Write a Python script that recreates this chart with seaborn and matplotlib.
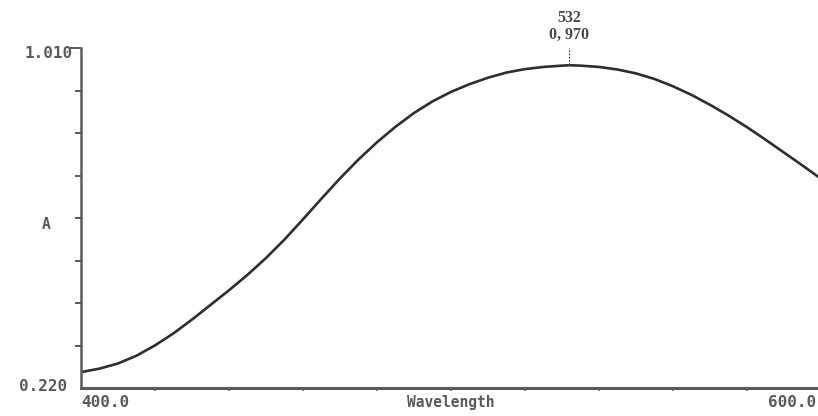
import numpy as np
import pandas as pd
import matplotlib
matplotlib.use("Agg")
import matplotlib.pyplot as plt
import matplotlib.transforms as mtransforms
import seaborn as sns

# Absorption spectrum, 400-600 nm
wavelength = [400, 405, 410, 415, 420, 425, 430, 435, 440, 445, 450, 455, 460,
              465, 470, 475, 480, 485, 490, 495, 500, 505, 510, 515, 520, 525,
              530, 532, 535, 540, 545, 550, 555, 560, 565, 570, 575, 580, 585,
              590, 595, 600]
absorbance = [0.257, 0.265, 0.277, 0.295, 0.319, 0.347, 0.379, 0.413, 0.447,
              0.483, 0.522, 0.565, 0.612, 0.660, 0.707, 0.751, 0.791, 0.827,
              0.859, 0.886, 0.908, 0.926, 0.941, 0.953, 0.961, 0.966, 0.969,
              0.970, 0.969, 0.966, 0.960, 0.951, 0.938, 0.921, 0.901, 0.878,
              0.853, 0.826, 0.797, 0.767, 0.737, 0.706]

peak_wl = 532
peak_abs = 0.970
x_range = (400.0, 600.0)
y_range = (0.220, 1.010)

sns.set_style("white")
plt.rcParams["font.family"] = ["DejaVu Sans Mono", "DejaVu Sans"]

df = pd.DataFrame({"Wavelength": wavelength, "A": absorbance})

fig = plt.figure(figsize=(8.18, 4.16), dpi=100)
ax = fig.add_axes([0.099, 0.0673, 0.9047, 0.8173])
ax.set_facecolor("white")

sns.lineplot(data=df, x="Wavelength", y="A", ax=ax, color="#2e2e2e",
             linewidth=1.9, legend=False)

ax.set_xlim(*x_range)
ax.set_ylim(*y_range)

for side in ("top", "right"):
    ax.spines[side].set_visible(False)
for side in ("left", "bottom"):
    ax.spines[side].set_color("#5a5a5a")
    ax.spines[side].set_linewidth(1.8)
ax.spines["bottom"].set_linewidth(2.2)

text_color = "#5a5a5a"
mono = dict(family=["DejaVu Sans Mono"], weight="bold", color=text_color)

# y axis: nine evenly spaced ticks, numbers at the two ends
y_ticks = np.linspace(y_range[0], y_range[1], 9)
y_labels = ["0.220", "", "", "", "", "", "", "", "1.010"]
ax.set_yticks(y_ticks)
ax.set_yticklabels(y_labels)
for lbl in ax.get_yticklabels():
    lbl.set_fontfamily("DejaVu Sans Mono")
    lbl.set_fontweight("bold")
    lbl.set_fontsize(11.5)
    lbl.set_color(text_color)
ax.tick_params(axis="y", direction="out", length=4, width=1.4,
               color="#5a5a5a", pad=2, left=True)
ax.yaxis.get_major_ticks()[-1].tick1line.set_markersize(9)
ax.yaxis.get_major_ticks()[0].tick1line.set_markersize(0)
shift_down = mtransforms.ScaledTranslation(0, -4 / 100, fig.dpi_scale_trans)
top_lbl = ax.get_yticklabels()[-1]
top_lbl.set_transform(top_lbl.get_transform() + shift_down)
shift_up = mtransforms.ScaledTranslation(-6 / 100, 3 / 100, fig.dpi_scale_trans)
bot_lbl = ax.get_yticklabels()[0]
bot_lbl.set_transform(bot_lbl.get_transform() + shift_up)

ax.text(-0.047, 0.601, "A", transform=ax.get_yaxis_transform(),
        ha="center", va="center", fontsize=10.5, **mono)

# x axis: small tick marks every 20 nm, labels placed at the ends and centre
ax.set_xticks(np.arange(420, 600, 20))
ax.set_xticklabels([])
ax.tick_params(axis="x", direction="out", length=2.5, width=1.2,
               color="#777777", bottom=True)
ax.set_xlabel("")
ax.set_ylabel("")

ax.text(x_range[0], -0.022, "400.0", transform=ax.get_xaxis_transform(),
        ha="left", va="top", fontsize=11.5, **mono)
right_edge = ax.get_xaxis_transform() + mtransforms.ScaledTranslation(
    -5 / 100, 0, fig.dpi_scale_trans)
ax.text(x_range[1], -0.022, "600.0", transform=right_edge,
        ha="right", va="top", fontsize=11.5, **mono)
ax.text(500, -0.022, "Wavelength", transform=ax.get_xaxis_transform(),
        ha="center", va="top", fontsize=10.5, **mono)

# Peak marker with wavelength / absorbance readout
ax.plot([peak_wl, peak_wl], [peak_abs, peak_abs + 0.04], color="#555555",
        linewidth=0.8, linestyle=(0, (2, 1)), clip_on=False)
serif = dict(family=["Liberation Serif", "DejaVu Serif"], weight="bold",
             color="#4a4a4a", ha="center", clip_on=False)
ax.text(peak_wl, 1.062, f"{peak_wl}", va="bottom", fontsize=11.5, **serif)
ax.text(peak_wl, 1.022, f"{peak_abs:.3f}".replace(".", ", "), va="bottom",
        fontsize=11.5, **serif)

fig.savefig("out.png", dpi=100, facecolor="white")
